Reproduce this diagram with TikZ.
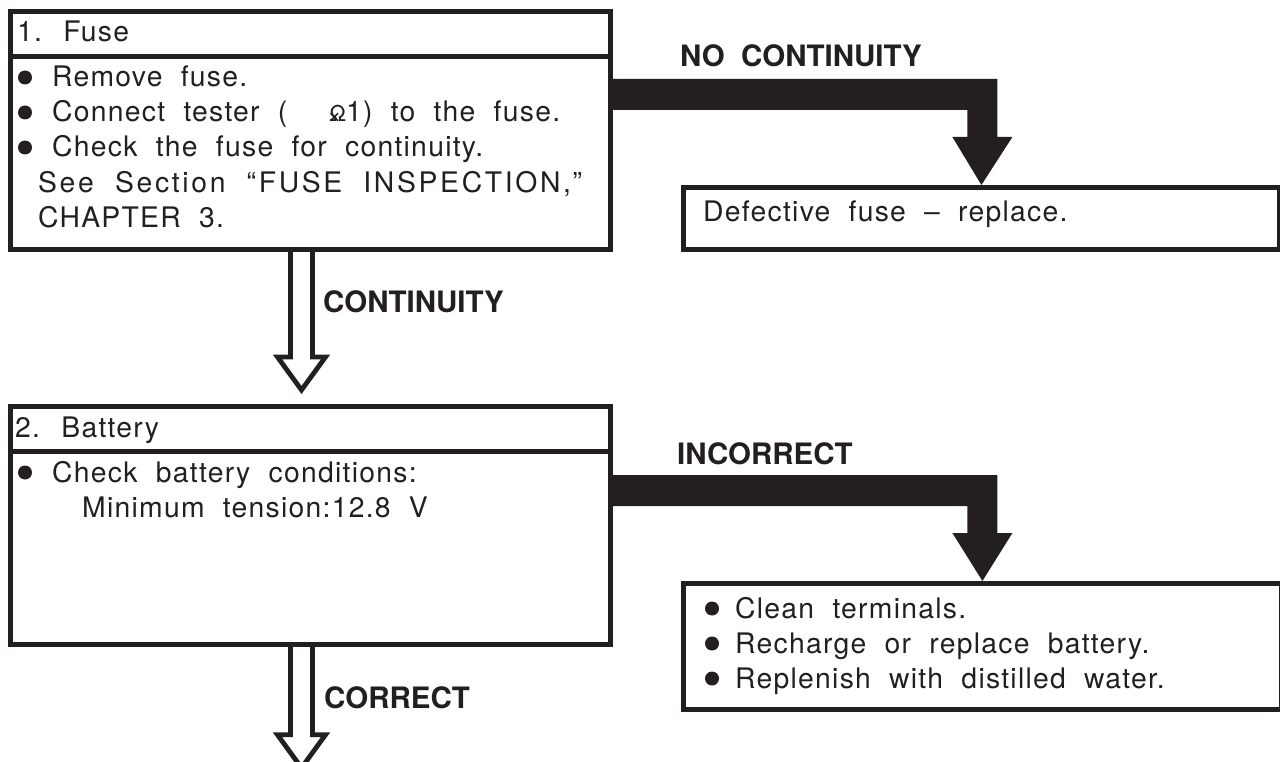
\documentclass[tikz,border=0pt]{standalone}
\usepackage{fontspec}
\usetikzlibrary{calc}
\setmainfont{TeX Gyre Heros}[WordSpace=2, LetterSpace=4.5]
\newfontfamily\lblfont{TeX Gyre Heros}[WordSpace=2]
\definecolor{ink}{HTML}{231F20}
\begin{document}
\begin{tikzpicture}[x=1pt,y=-1pt,
  box/.style={draw=ink, line width=4.8pt, inner sep=0, anchor=north west},
  txt/.style={anchor=base west, inner sep=0, text=ink, font=\fontsize{28.3}{35}\selectfont},
  lbl/.style={anchor=base west, inner sep=0, text=ink, font=\lblfont\bfseries\fontsize{29.5}{35}\selectfont},
  blt/.style={fill=ink},
  solidarrow/.style={fill=ink},
  hollowarrow/.style={draw=ink, line width=4.8pt, line join=miter, miter limit=10}]
\useasboundingbox (0,0) rectangle (1280,762);

% boxes
\node[box, minimum width=600, minimum height=45] (fuseh) at (8,9) {};
\node[box, minimum width=600, minimum height=193] (fuseb) at (8,54) {};
\node[box, minimum width=596, minimum height=62] (defect) at (681,185) {};
\node[box, minimum width=600, minimum height=45] (bath) at (8,404) {};
\node[box, minimum width=600, minimum height=193] (batb) at (8,449) {};
\node[box, minimum width=598, minimum height=126] (clean) at (681,581) {};

% texts of box 1
\node[txt] (t11) at (17,42) {1. Fuse};
\fill[blt] (25,77.5) circle (7);
\node[txt] (t12) at (52,87) {Remove fuse.};
\fill[blt] (25,112.5) circle (7);
\node[txt] (t13) at (52,122) {Connect tester (\hspace{40pt}\rlap{\raisebox{-2pt}{\fontsize{24}{24}\selectfont ×}}\hspace{2pt}{\fontsize{22}{22}\selectfont Ω}1) to the fuse.};
\fill[blt] (25,147.5) circle (7);
\node[txt] (t14) at (52,157) {Check the fuse for continuity.};
\node[txt] (t15) at (38,193) {\addfontfeature{LetterSpace=9.5}See Section “FUSE INSPECTION,”};
\node[txt] (t16) at (38,228) {CHAPTER 3.};

\node[txt] (t2) at (703,222) {Defective fuse – replace.};

% texts of box 2
\node[txt] (t31) at (15,437) {2. Battery};
\fill[blt] (25,472.5) circle (7);
\node[txt] (t32) at (52,482) {Check battery conditions:};
\node[txt] (t33) at (82,517) {Minimum tension:12.8 V};

\fill[blt] (712,608.5) circle (7);
\node[txt] (t41) at (735,618) {Clean terminals.};
\fill[blt] (712,643.5) circle (7);
\node[txt] (t42) at (735,653) {Recharge or replace battery.};
\fill[blt] (712,678.5) circle (7);
\node[txt] (t43) at (735,688) {Replenish with distilled water.};

% labels
\node[lbl] (l1) at (680,67) {NO CONTINUITY};
\node[lbl] (l2) at (323,312) {CONTINUITY};
\node[lbl] (l3) at (677,464) {INCORRECT};
\node[lbl] (l4) at (324,708) {CORRECT};

% solid arrows
\fill[solidarrow] ($(fuseb.north east)+(0,25)$) -| ($(defect.north)+(16,-48)$)
  -- ($(defect.north)+(31,-48)$) -- (defect.north) -- ($(defect.north)+(-29,-48)$)
  -- ($(defect.north)+(-14,-48)$) |- ($(fuseb.north east)+(0,56)$) -- cycle;
\fill[solidarrow] ($(batb.north east)+(0,26)$) -| ($(clean.north)+(15,-48)$)
  -- ($(clean.north)+(30,-48)$) -- (clean.north) -- ($(clean.north)+(-30,-48)$)
  -- ($(clean.north)+(-15,-48)$) |- ($(batb.north east)+(0,57)$) -- cycle;

% hollow arrows
\coordinate (c1) at ($(fuseb.south west)+(293.5,0)$);
\coordinate (t1) at ($(bath.north west)+(293.5,0)$);
\draw[hollowarrow] ($(c1)+(-11,0)$) -- ($(t1)+(-11,-47)$) -- ($(t1)+(-24,-47)$)
  -- ($(t1)+(0,-14)$) -- ($(t1)+(24,-47)$) -- ($(t1)+(11,-47)$) -- ($(c1)+(11,0)$);
\coordinate (c2) at ($(batb.south west)+(293.5,0)$);
\coordinate (t2end) at ($(batb.south west)+(293.5,135)$);
\draw[hollowarrow] ($(c2)+(-11,0)$) -- ($(t2end)+(-11,-47)$) -- ($(t2end)+(-24,-47)$)
  -- ($(t2end)+(0,-14)$) -- ($(t2end)+(24,-47)$) -- ($(t2end)+(11,-47)$) -- ($(c2)+(11,0)$);
\end{tikzpicture}
\end{document}
